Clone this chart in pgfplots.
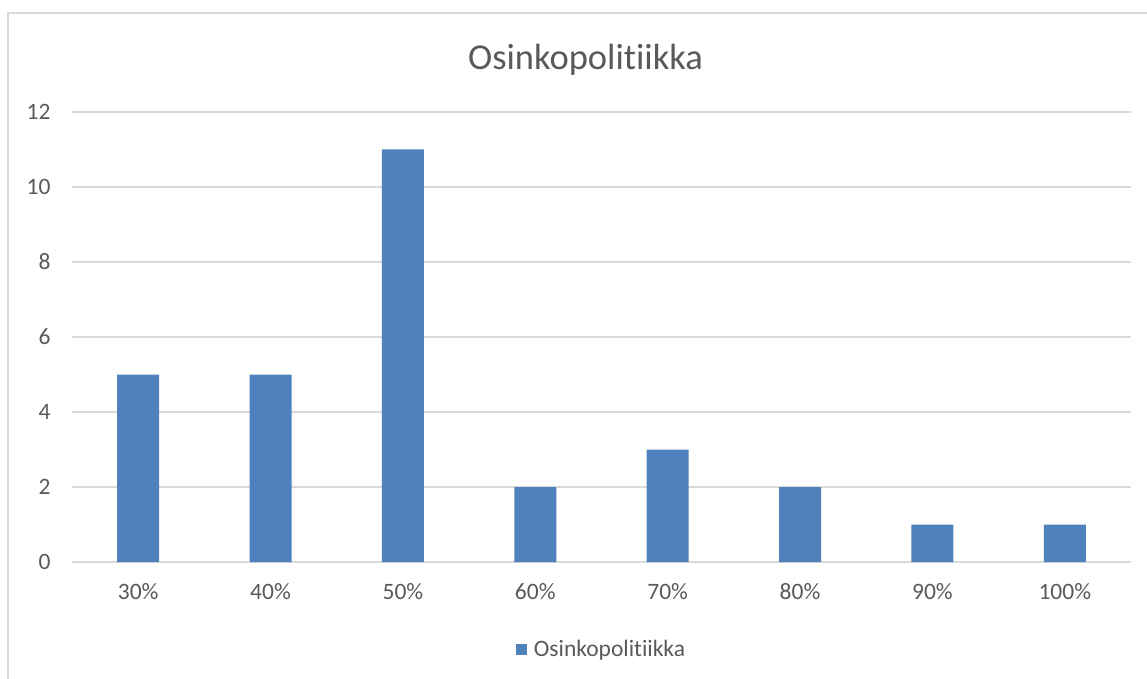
\documentclass[border=0pt]{standalone}
\usepackage{pgfplots}
\pgfplotsset{compat=1.18}
\usepackage{fontspec}
\setmainfont{Carlito}[Ligatures=NoCommon]
\definecolor{barblue}{HTML}{4F81BD}
\definecolor{gridgray}{HTML}{D9D9D9}
\definecolor{textgray}{HTML}{595959}
\begin{document}
\begin{tikzpicture}
\useasboundingbox (0pt,0pt) rectangle (1147pt,678pt);
\draw[gridgray, line width=1.5pt] (8pt,-10pt) -- (8pt,665pt) -- (1160pt,665pt);
\begin{axis}[
  at={(72pt,116pt)}, anchor=south west,
  scale only axis, width=1059pt, height=450pt,
  xmin=-0.5, xmax=7.5, ymin=0, ymax=12,
  axis line style={draw=none},
  ymajorgrids, grid style={gridgray, line width=1.2pt},
  ytick={0,2,...,12}, xtick=data,
  xticklabels={30\%,40\%,50\%,60\%,70\%,80\%,90\%,100\%},
  tick label style={font=\fontsize{23.5}{26}\selectfont, text=textgray},
  /pgf/number format/assume math mode=true,
  yticklabel style={anchor=east, xshift=-18pt},
  xticklabel style={anchor=north, yshift=-18pt},
  major tick length=0pt,
  clip=false,
  title={Osinkopolitiikka},
  title style={font=\fontsize{36.5}{40}\selectfont, text=textgray, at={(0.485,1)}, anchor=south, yshift=27pt},
  legend style={draw=none, at={(0.5,-0.165)}, anchor=north, font=\fontsize{23.5}{26}\selectfont, text=textgray, legend cell align=left, /tikz/column sep=5pt},
  legend image code/.code={\fill[barblue] (0,-5.5pt) rectangle (11pt,5.5pt);},
]
\addplot[ybar, bar width=42pt, fill=barblue, draw=none] coordinates {
 (0,5) (1,5) (2,11) (3,2) (4,3) (5,2) (6,1) (7,1)
};
\addlegendentry{Osinkopolitiikka}
\end{axis}
\end{tikzpicture}
\end{document}
